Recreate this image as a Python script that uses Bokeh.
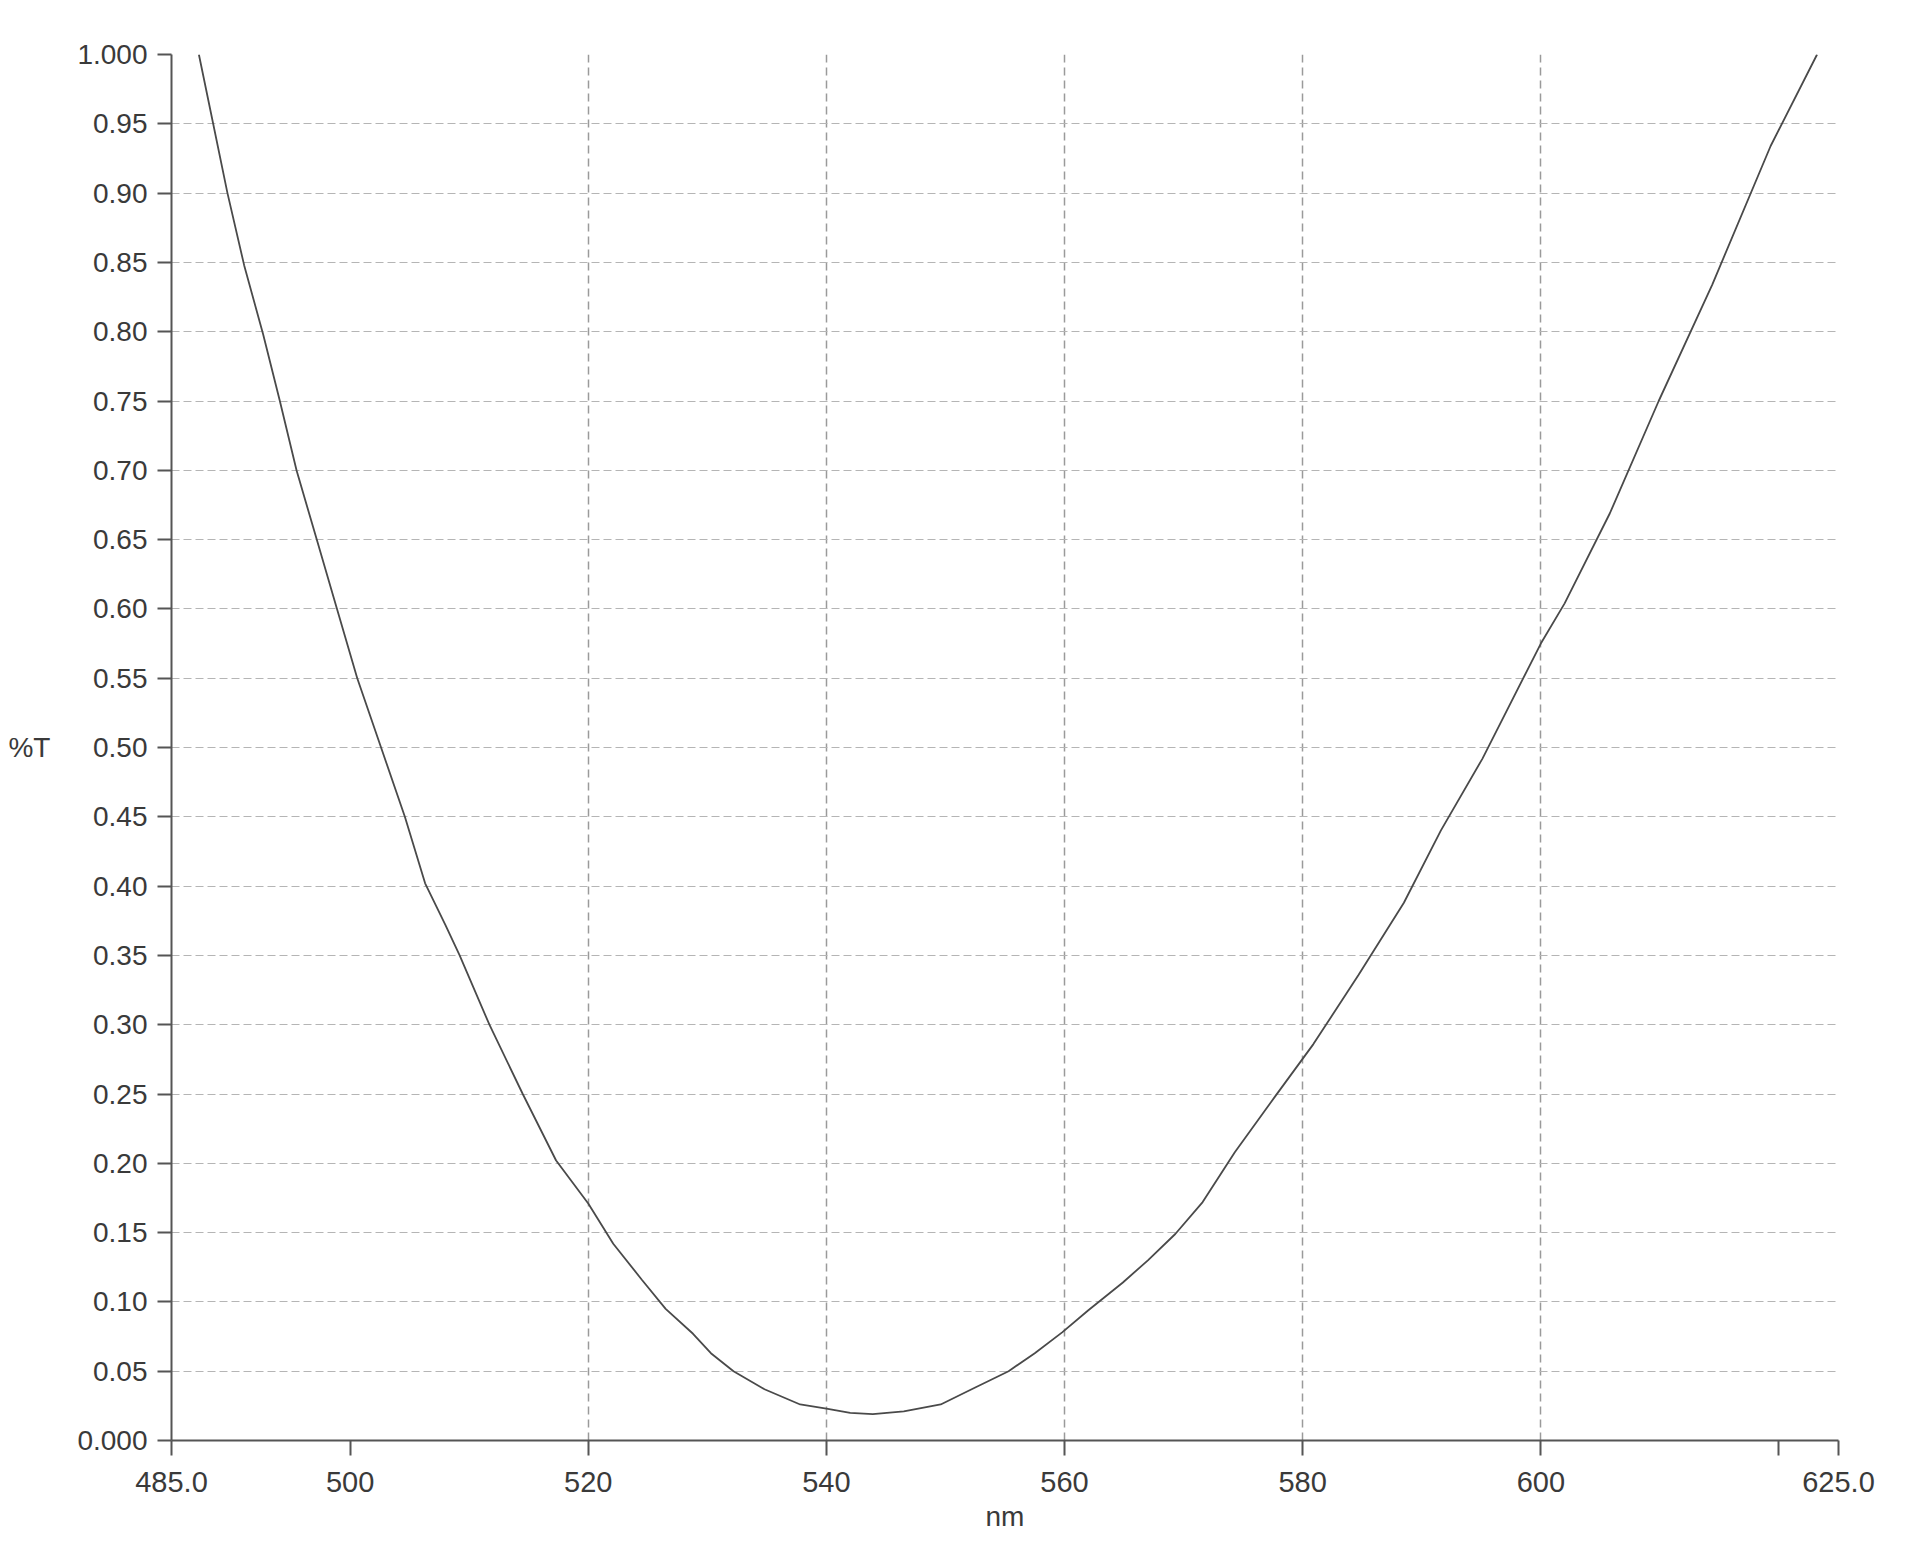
from bokeh.plotting import figure
from bokeh.models import Range1d, FixedTicker
from bokeh.embed import file_html
from bokeh.resources import INLINE

# Data (%T vs wavelength nm)
wavelength = [487.3, 488.5, 489.7, 491.1, 492.7, 494.1, 495.5, 497.2, 498.9, 500.6,
              502.6, 504.6, 506.3, 508.0, 509.2, 511.7, 514.5, 517.3, 520.0, 522.1,
              524.5, 526.5, 528.8, 530.3, 532.2, 534.8, 537.8, 540.0, 542.0, 543.9,
              546.5, 549.6, 552.2, 555.3, 557.5, 559.8, 562.0, 564.9, 567.0, 569.3,
              571.6, 574.3, 577.75, 580.9, 584.7, 588.5, 591.6, 595.1, 600.0, 602.0,
              605.8, 609.9, 614.4, 619.3, 623.2]
transmittance = [1.000, 0.950, 0.900, 0.848, 0.798, 0.750, 0.700, 0.650, 0.600, 0.550,
                 0.500, 0.450, 0.402, 0.372, 0.350, 0.300, 0.250, 0.202, 0.171, 0.142,
                 0.116, 0.095, 0.077, 0.063, 0.050, 0.037, 0.026, 0.023, 0.020, 0.019,
                 0.021, 0.026, 0.037, 0.050, 0.063, 0.078, 0.094, 0.114, 0.130, 0.149,
                 0.172, 0.208, 0.249, 0.286, 0.336, 0.388, 0.440, 0.492, 0.575, 0.604,
                 0.669, 0.750, 0.834, 0.934, 1.000]

x_ticks = [485, 500, 520, 540, 560, 580, 600, 620, 625]
x_tick_labels = {485: "485.0", 500: "500", 520: "520", 540: "540", 560: "560",
                 580: "580", 600: "600", 620: "", 625: "625.0"}
x_grid = [520, 540, 560, 580, 600, 625]
y_ticks = [round(i * 0.05, 2) for i in range(21)]
y_tick_labels = {t: ("%.3f" % t if t in (0.0, 1.0) else "%.2f" % t) for t in y_ticks}

FONT = "Liberation Sans"
TXT = "#3a3a3a"

p = figure(frame_width=1667, frame_height=1386,
           min_border_left=171, min_border_right=66,
           min_border_top=54, min_border_bottom=109,
           x_range=Range1d(485, 625), y_range=Range1d(0, 1.0),
           output_backend="svg", toolbar_location=None,
           background_fill_color="white", border_fill_color="white")
p.outline_line_color = None

p.line(wavelength, transmittance, line_color="#4a4a4a", line_width=1.8)

# x axis
p.xaxis.ticker = FixedTicker(ticks=x_ticks)
p.xaxis.major_label_overrides = x_tick_labels
p.xaxis.axis_label = "nm"
p.xaxis.axis_label_text_font = FONT
p.xaxis.axis_label_text_font_style = "normal"
p.xaxis.axis_label_text_font_size = "28px"
p.xaxis.axis_label_text_color = TXT
p.xaxis.axis_label_standoff = 6
p.xaxis.major_label_text_font = FONT
p.xaxis.major_label_text_font_size = "29px"
p.xaxis.major_label_text_color = TXT
p.xaxis.major_label_standoff = 16
p.xaxis.major_tick_out = 15
p.xaxis.major_tick_in = 0
p.xaxis.minor_tick_line_color = None

# y axis
p.yaxis.ticker = FixedTicker(ticks=y_ticks)
p.yaxis.major_label_overrides = y_tick_labels
p.yaxis.major_label_text_font = FONT
p.yaxis.major_label_text_font_size = "28px"
p.yaxis.major_label_text_color = TXT
p.yaxis.major_label_standoff = 10
p.yaxis.major_tick_out = 14
p.yaxis.major_tick_in = 0
p.yaxis.minor_tick_line_color = None
p.yaxis.axis_label = "%T"
p.yaxis.axis_label_orientation = "horizontal"
p.yaxis.axis_label_text_font = FONT
p.yaxis.axis_label_text_font_style = "normal"
p.yaxis.axis_label_text_font_size = "28px"
p.yaxis.axis_label_text_color = TXT
p.yaxis.axis_label_standoff = 24

for ax in (p.xaxis, p.yaxis):
    ax.axis_line_color = "#555555"
    ax.axis_line_width = 2
    ax.major_tick_line_color = "#555555"
    ax.major_tick_line_width = 2

# grids
p.xgrid.ticker = FixedTicker(ticks=x_grid)
p.xgrid.grid_line_color = "#9a9a9a"
p.xgrid.grid_line_dash = "8 5"
p.xgrid.grid_line_width = 1.5
p.ygrid.ticker = FixedTicker(ticks=y_ticks[1:])
p.ygrid.grid_line_color = "#b5b5b5"
p.ygrid.grid_line_dash = "8 4"
p.ygrid.grid_line_width = 1.2

open("out.html", "w").write(file_html(p, INLINE))
